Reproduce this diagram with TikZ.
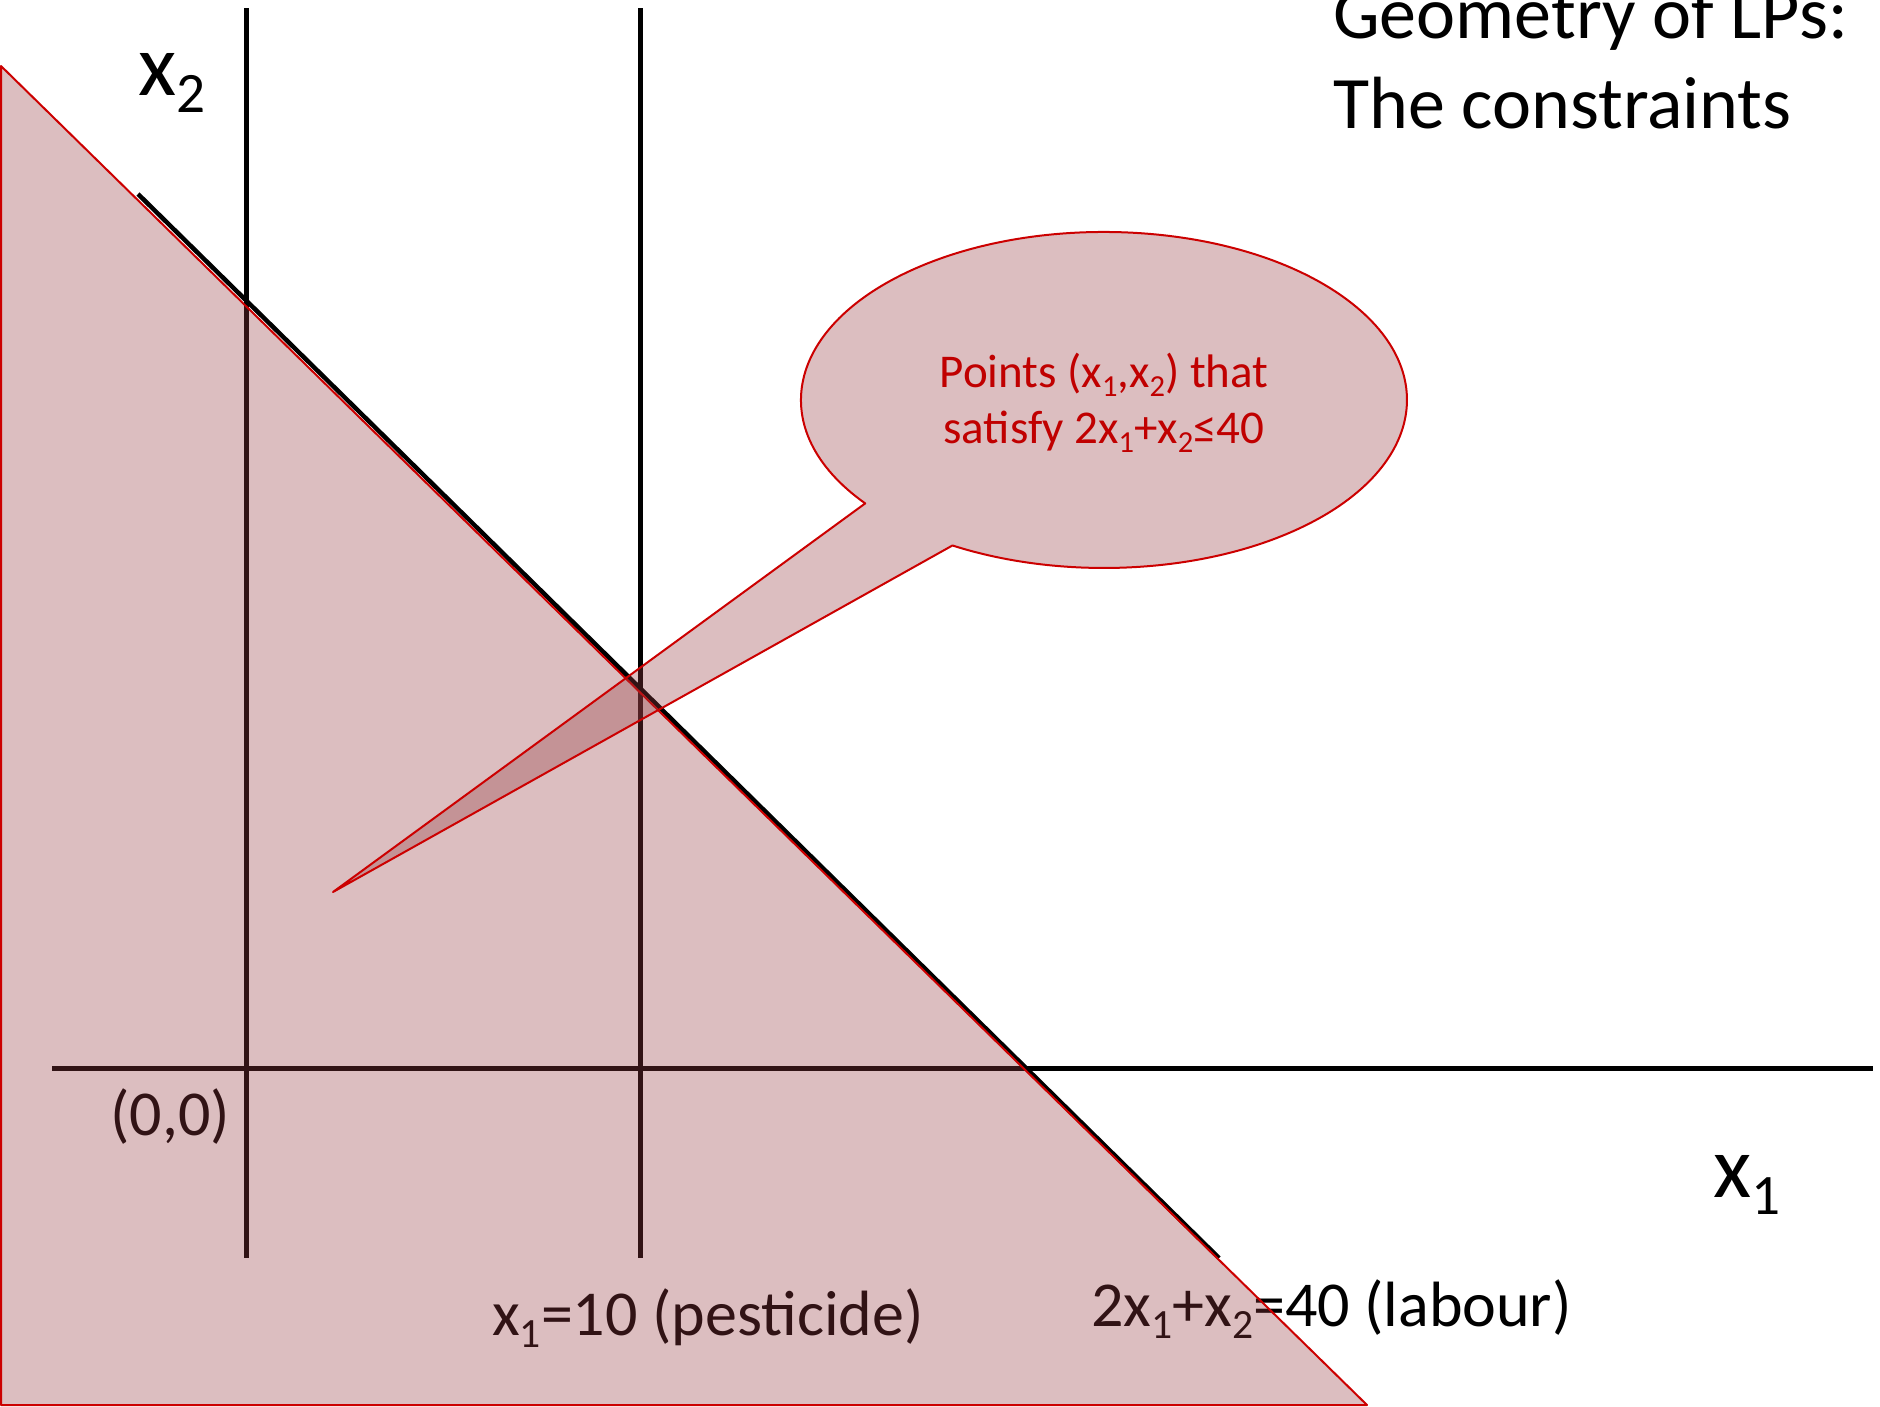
\documentclass[tikz,border=0pt]{standalone}
\usepackage{fontspec}
\setmainfont{Carlito}
\newcommand\lsub[1]{\raisebox{-0.2em}{\scalebox{0.65}{#1}}}
\definecolor{regionfill}{RGB}{150,60,66}
\definecolor{edgered}{RGB}{204,0,0}
\definecolor{textred}{RGB}{192,0,0}
\begin{document}
\begin{tikzpicture}[x=1pt,y=-1pt,
  axisline/.style={line width=5pt,black},
  region/.style={fill=regionfill,fill opacity=0.33,draw=edgered,line width=2pt,line join=round},
  lbl/.style={inner sep=0pt,font=\fontsize{64}{77}\selectfont,text=black},
  axlbl/.style={inner sep=0pt,font=\fontsize{88}{100}\selectfont,text=black},
  titlelbl/.style={inner sep=0pt,font=\fontsize{74}{90}\selectfont,text=black,anchor=base west},
  calltext/.style={inner sep=0pt,font=\fontsize{47}{56}\selectfont,text=textred,anchor=base}]
\useasboundingbox (0,0) rectangle (1880,1406);
\fill[white] (0,0) rectangle (1880,1406);
% coordinates
\coordinate (v1top) at (246,8);
\coordinate (v1bot) at (246,1258);
\coordinate (v2top) at (640,8);
\coordinate (v2bot) at (640,1258);
\coordinate (axL) at (52,1068);
\coordinate (axR) at (1873,1068);
\coordinate (labA) at (138,194);
\coordinate (labB) at (1219,1258);
\coordinate (triTop) at (1,66);
\coordinate (triBL) at (1,1405);
\coordinate (triBR) at (1367,1405);
\coordinate (tip) at (333,892);
\coordinate (tailA) at (865.2,503.4);
% lines
\draw[axisline] (v1top) -- (v1bot);
\draw[axisline] (v2top) -- (v2bot);
\draw[axisline] (axL) -- (axR);
\draw[line width=4.5pt,black] (labA) -- (labB);
% labels
\node[axlbl,anchor=base west] (x2lab) at (138,95) {x\lsub{2}};
\node[axlbl,anchor=base west] (x1lab) at (1713,1197) {x\lsub{1}};
\node[lbl,anchor=base west] (origin) at (110,1135) {(0,0)};
\node[lbl,anchor=base west] (pest) at (492,1335) {x\lsub{1}=10 (pesticide)};
\node[lbl,anchor=base west] (labour) at (1091,1326) {2x\lsub{1}+x\lsub{2}=40 (labour)};
\node[titlelbl] (title1) at (1333,38) {Geometry of LPs:};
\node[titlelbl] (title2) at (1333,128) {The constraints};
% feasible region
\path[region] (triTop) -- (triBL) -- (triBR) -- cycle;
% callout
\path[region] (tip) -- (tailA) arc[start angle=142,end angle=480,x radius=303,y radius=168] -- cycle;
\node[calltext] (callA) at (1104,387) {Points (x\lsub{1},x\lsub{2}) that};
\node[calltext] (callB) at (1104,443) {satisfy 2x\lsub{1}+x\lsub{2}≤40};
\end{tikzpicture}
\end{document}
